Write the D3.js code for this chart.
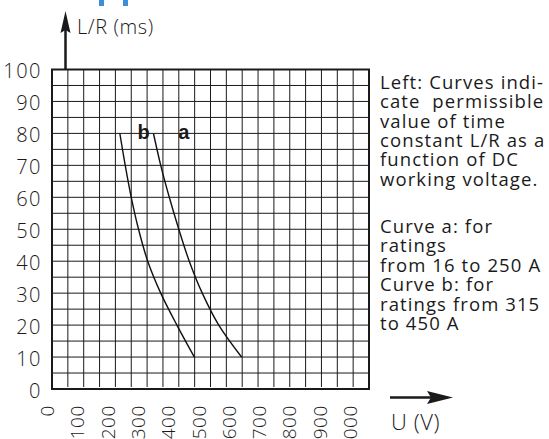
<!DOCTYPE html>
<html>
<head>
<meta charset="utf-8">
<script src="https://d3js.org/d3.v7.min.js"></script>
<style>
  body { margin: 0; background: #fff; }
  svg { display: block; }
  text { font-family: "Open Sans", "DejaVu Sans", sans-serif; font-weight: 300; fill: #1a1a1a; }
</style>
</head>
<body>
<svg id="chart" width="549" height="439"></svg>
<script>
// curve a: ratings 16..250 A  [U (V), L/R (ms)]
var curveA = [[320,80],[343,70],[370,60],[400,50],[433,40],[474,30],[526,20],[598,10]];
// curve b: ratings 315..450 A
var curveB = [[214,80],[231,70],[250,60],[273,50],[302,40],[343,30],[394,20],[449,10]];
var yTicks = [0,10,20,30,40,50,60,70,80,90,100];
var xTicks = [0,100,200,300,400,500,600,700,800,900,1000];
var noteLines = ["Left: Curves indi-", "cate  permissible", "value of time", "constant L/R as a", "function of DC", "working voltage.",
                 "", "Curve a: for", "ratings", "from 16 to 250 A", "Curve b: for", "ratings from 315", "to 450 A"];

var svg = d3.select("#chart");
var ink = "#1a1a1a";

var x = d3.scaleLinear().domain([0,1000]).range([52,369]);
var y = d3.scaleLinear().domain([0,100]).range([389,69.5]);
// tick labels sit on a slightly tighter spacing than the grid
var xl = d3.scaleLinear().domain([0,1000]).range([47,350]);

// bits of a cut-off blue heading at the top edge
svg.append("rect").attr("x",99).attr("y",0).attr("width",5).attr("height",6).attr("fill","#3b8fd9");
svg.append("rect").attr("x",123).attr("y",0).attr("width",5).attr("height",6).attr("fill","#3b8fd9");

// grid
var g = svg.append("g");
g.selectAll(".vl").data(d3.range(50,1000,50)).enter().append("line")
  .attr("x1", d => x(d)).attr("x2", d => x(d))
  .attr("y1", y(100)).attr("y2", y(0) - 2)
  .attr("stroke", ink).attr("stroke-width", 1);
g.selectAll(".hl").data(d3.range(5,100,5)).enter().append("line")
  .attr("x1", x(0)).attr("x2", x(1000))
  .attr("y1", d => y(d)).attr("y2", d => y(d))
  .attr("stroke", ink).attr("stroke-width", 1);
g.append("rect")
  .attr("x", x(0)).attr("y", y(100))
  .attr("width", x(1000) - x(0)).attr("height", y(0) - y(100))
  .attr("fill", "none").attr("stroke", ink).attr("stroke-width", 2);

// curves
var line = d3.line().x(d => x(d[0])).y(d => y(d[1])).curve(d3.curveMonotoneY);
[curveA, curveB].forEach(function(c) {
  svg.append("path").datum(c).attr("d", line)
    .attr("fill","none").attr("stroke","#111").attr("stroke-width",1.4);
});
svg.append("text").attr("x", x(289)).attr("y", y(78.3)).attr("text-anchor","middle")
  .style("font-family","Liberation Sans, Arial, sans-serif").style("font-weight","bold").style("font-size","20px").text("b");
svg.append("text").attr("x", x(416)).attr("y", y(78.3)).attr("text-anchor","middle")
  .style("font-family","Liberation Sans, Arial, sans-serif").style("font-weight","bold").style("font-size","20px").text("a");

// y axis labels
var yAxis = svg.append("g").attr("transform","translate(" + x(0) + ",0)")
  .call(d3.axisLeft(y).tickValues(yTicks).tickSize(0).tickPadding(10));
yAxis.select(".domain").remove();
yAxis.selectAll("text").style("font-family", "'Open Sans', sans-serif").style("font-weight","300")
  .style("font-size","20px").style("letter-spacing","1.5px").attr("fill", ink).attr("dy","0.42em");

// x labels, rotated
svg.selectAll(".xlab").data(xTicks).enter().append("text")
  .attr("transform", d => "translate(" + (xl(d) + 7) + ",405) rotate(-90)")
  .attr("text-anchor","end")
  .style("font-size","19px").style("letter-spacing","0.6px")
  .text(d => d);

// axis arrows
var arrowX = 65.5;
svg.append("line").attr("x1",arrowX).attr("x2",arrowX).attr("y1",y(100)).attr("y2",28)
  .attr("stroke",ink).attr("stroke-width",2.5);
svg.append("path").attr("d","M" + arrowX + ",11 L" + (arrowX+5) + ",33 L" + arrowX + ",30 L" + (arrowX-5) + ",33 Z").attr("fill",ink);
svg.append("text").attr("x",77).attr("y",34).style("font-size","20px").style("letter-spacing","0.6px").text("L/R (ms)");

svg.append("line").attr("x1",390).attr("x2",440).attr("y1",397.5).attr("y2",397.5)
  .attr("stroke",ink).attr("stroke-width",2.5);
svg.append("path").attr("d","M453,397.5 L427,391 L431,397.5 L427,404 Z").attr("fill",ink);
svg.append("text").attr("x",391).attr("y",430).style("font-size","22px").style("letter-spacing","0.6px").text("U (V)");

// note on the right
svg.append("g").selectAll("text").data(noteLines).enter().append("text")
  .attr("x",380)
  .attr("y", (d,i) => i < 6 ? 89 + i*19.3 : 233 + (i-7)*19.4)
  .style("font-weight","400")
  .style("font-size","18.5px").style("letter-spacing","1.1px")
  .style("white-space","pre")
  .text(d => d);
</script>
</body>
</html>
